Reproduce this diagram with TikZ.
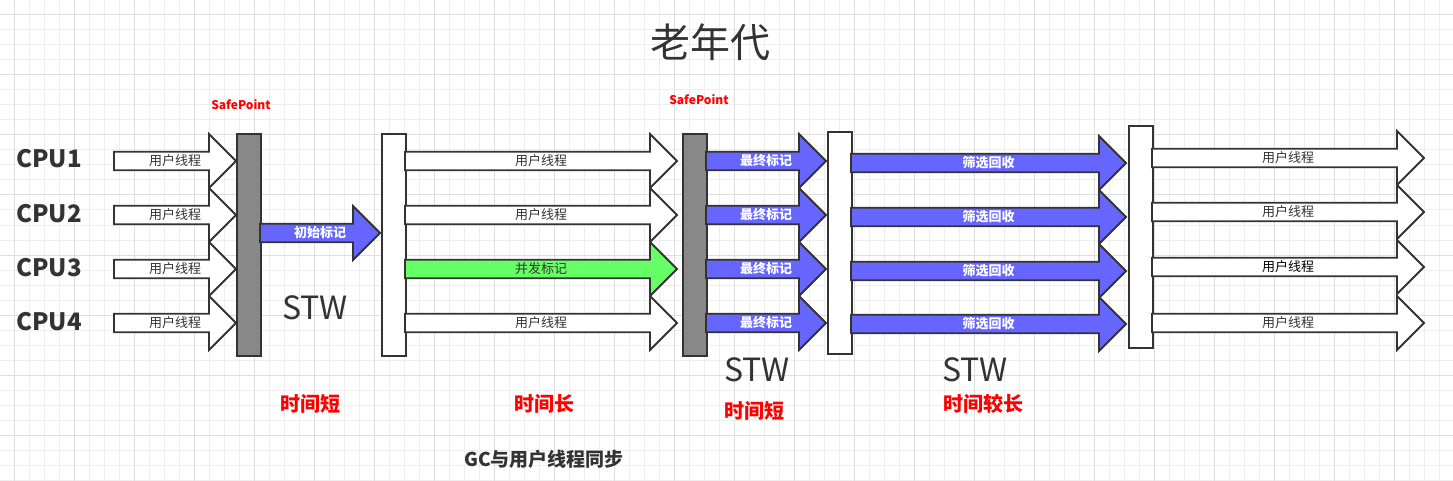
\documentclass[tikz,border=0pt]{standalone}
\usepackage{fontspec}
\setmainfont{Noto Sans CJK SC}
\usetikzlibrary{positioning}

\definecolor{inkgray}{RGB}{51,51,51}
\definecolor{barfill}{RGB}{136,136,136}
\definecolor{markblue}{RGB}{102,102,255}
\definecolor{markgreen}{RGB}{102,255,102}
\definecolor{gridminor}{RGB}{238,238,238}
\definecolor{gridmajor}{RGB}{222,222,222}

% 块状箭头: #1 填充, #2 起点x, #3 箭头尖x, #4 中线y, #5 文字样式, #6 名字, #7 文字
\newcommand{\blockarrow}[7]{%
  \draw[arrowline,fill=#1] (#2,#4-9.3) -- (#3-27,#4-9.3) -- (#3-27,#4-27) -- (#3,#4)
    -- (#3-27,#4+27) -- (#3-27,#4+9.3) -- (#2,#4+9.3) -- cycle;
  \node[#5] (#6) at ({(#2+#3)/2},#4) {#7};}

\begin{document}
\begin{tikzpicture}[
    x=1pt, y=-1pt,
    arrowline/.style={draw=inkgray,line width=1.8pt,line join=miter},
    bar/.style={draw=inkgray,line width=1.8pt,inner sep=0pt,anchor=north west,
      minimum width=24pt},
    runtext/.style={font=\fontsize{13}{13}\selectfont,text=inkgray,inner sep=0pt},
    marktext/.style={font=\bfseries\fontsize{13}{13}\selectfont,text=white,inner sep=0pt},
    cpu/.style={font=\bfseries\fontsize{24}{24}\selectfont,text=inkgray,anchor=west,inner sep=0pt},
    safe/.style={font=\bfseries\fontsize{12}{12}\selectfont,text=red,inner sep=0pt},
    stw/.style={font=\fontsize{32}{32}\selectfont,text=inkgray,inner sep=0pt},
    timetext/.style={font=\bfseries\fontsize{20}{20}\selectfont,text=red,inner sep=0pt}
]
\useasboundingbox (0,0) rectangle (1453,481);
\fill[white] (0,0) rectangle (1453,481);

% 背景网格
\foreach \gx in {-0.7,14.3,...,1453} \draw[gridminor,line width=1pt] (\gx,0) -- (\gx,481);
\foreach \gy in {0,15,...,481} \draw[gridminor,line width=1pt] (0,\gy) -- (1453,\gy);
\foreach \gx in {14.3,74.3,...,1453} \draw[gridmajor,line width=1pt] (\gx,0) -- (\gx,481);
\foreach \gy in {15,75,...,481} \draw[gridmajor,line width=1pt] (0,\gy) -- (1453,\gy);

% 标题与CPU
\node[font=\fontsize{40}{40}\selectfont,text=inkgray,inner sep=0pt] (title) at (710,42) {老年代};
\node[cpu] (cpu1) at (16,159) {CPU1};
\node[cpu] (cpu2) at (16,214) {CPU2};
\node[cpu] (cpu3) at (16,268) {CPU3};
\node[cpu] (cpu4) at (16,322) {CPU4};

% 第一段: 用户线程 -> SafePoint
\blockarrow{white}{114}{236}{161}{runtext}{run1}{用户线程}
\blockarrow{white}{114}{236}{215}{runtext}{run2}{用户线程}
\blockarrow{white}{114}{236}{269}{runtext}{run3}{用户线程}
\blockarrow{white}{114}{236}{323}{runtext}{run4}{用户线程}
\node[bar,fill=barfill,minimum height=222pt] (safe1) at (236,133) {};
\node[safe] (safe1txt) at (241,105) {SafePoint};

% 初始标记
\blockarrow{markblue}{260}{380}{233}{marktext}{initmark}{初始标记}
\node[bar,fill=white,minimum height=222pt] (wait1) at (381,133) {};

% 并发标记与用户线程
\blockarrow{white}{405}{677}{161}{runtext}{conc1}{用户线程}
\blockarrow{white}{405}{677}{215}{runtext}{conc2}{用户线程}
\blockarrow{markgreen}{405}{677}{269}{runtext}{concmark}{并发标记}
\blockarrow{white}{405}{677}{323}{runtext}{conc4}{用户线程}
\node[bar,fill=barfill,minimum height=222pt] (safe2) at (682,133) {};
\node[safe] (safe2txt) at (699,100) {SafePoint};

% 最终标记
\blockarrow{markblue}{706}{826}{161}{marktext}{final1}{最终标记}
\blockarrow{markblue}{706}{826}{215}{marktext}{final2}{最终标记}
\blockarrow{markblue}{706}{826}{269}{marktext}{final3}{最终标记}
\blockarrow{markblue}{706}{826}{323}{marktext}{final4}{最终标记}
\node[bar,fill=white,minimum height=222pt] (wait2) at (827,131) {};

% 筛选回收
\blockarrow{markblue}{851}{1126}{163}{marktext}{sweep1}{筛选回收}
\blockarrow{markblue}{851}{1126}{217}{marktext}{sweep2}{筛选回收}
\blockarrow{markblue}{851}{1126}{271}{marktext}{sweep3}{筛选回收}
\blockarrow{markblue}{851}{1126}{324}{marktext}{sweep4}{筛选回收}
\node[bar,fill=white,minimum height=222pt] (wait3) at (1128,125) {};

% 恢复用户线程
\blockarrow{white}{1152}{1424}{158}{runtext}{back1}{用户线程}
\blockarrow{white}{1152}{1424}{212}{runtext}{back2}{用户线程}
\blockarrow{white}{1152}{1424}{267}{runtext,text=black}{back3}{用户线程}
\blockarrow{white}{1152}{1424}{323}{runtext}{back4}{用户线程}

% 说明文字
\node[stw] (stw1) at (315,308) {STW};
\node[stw] (stw2) at (757,370) {STW};
\node[stw] (stw3) at (975,370) {STW};
\node[timetext] (short1) at (310,404) {时间短};
\node[timetext] (long1) at (544,404) {时间长};
\node[timetext] (short2) at (754,411) {时间短};
\node[timetext] (long2) at (983,404) {时间较长};
\node[font=\bfseries\fontsize{19}{19}\selectfont,text=inkgray,inner sep=0pt] (sync) at (544,459) {GC与用户线程同步};

\end{tikzpicture}
\end{document}
